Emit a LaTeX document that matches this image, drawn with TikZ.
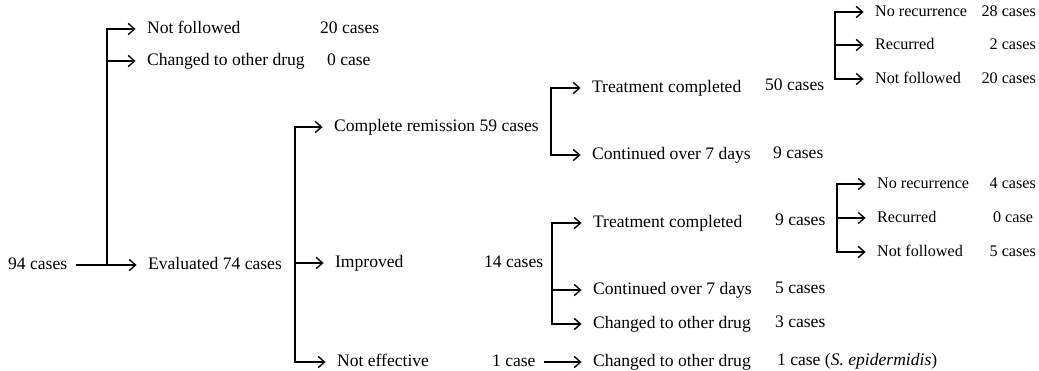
\documentclass[tikz,border=0pt]{standalone}
\usepackage{fontspec}
\setmainfont{Liberation Serif}
\usetikzlibrary{arrows.meta}

\begin{document}
\begin{tikzpicture}[
    x=0.025cm, y=-0.025cm,
    lbl/.style={anchor=west, inner sep=2pt,
        font=\fontsize{12.5}{15}\selectfont,
        text height=9pt, text depth=2.5pt},
    sml/.style={lbl, font=\fontsize{11.5}{14}\selectfont},
    arrow/.style={-{Straight Barb[length=4.5pt, width=8pt]},
        line width=1pt, shorten >=6pt}
]
\useasboundingbox (0,0) rectangle (1039,370);

% Level 0
\node[lbl] (total) at (5,265) {94 cases};

% Level 1
\node[lbl] (notf)  at (144,29) {Not followed};
\node[lbl] (notfN) at (317,29) {20 cases};
\node[lbl] (chg)   at (144,61) {Changed to other drug};
\node[lbl] (chgN)  at (324,61) {0 case};
\node[lbl] (eval)  at (145,265) {Evaluated 74 cases};

% Level 2
\node[lbl] (cr)   at (331,127) {Complete remission 59 cases};
\node[lbl] (imp)  at (332,263) {Improved};
\node[lbl] (impN) at (481,263) {14 cases};
\node[lbl] (ne)   at (334,362) {Not effective};
\node[lbl] (neN)  at (489,362) {1 case};

% Level 3
\node[lbl] (crtc)  at (589,88)  {Treatment completed};
\node[lbl] (crtcN) at (762,86)  {50 cases};
\node[lbl] (crco)  at (589,155) {Continued over 7 days};
\node[lbl] (crcoN) at (770,154) {9 cases};
\node[lbl] (imtc)  at (590,223) {Treatment completed};
\node[lbl] (imtcN) at (772,221) {9 cases};
\node[lbl] (imco)  at (590,290) {Continued over 7 days};
\node[lbl] (imcoN) at (772,289) {5 cases};
\node[lbl] (imch)  at (590,324) {Changed to other drug};
\node[lbl] (imchN) at (772,323) {3 cases};
\node[lbl] (nech)  at (590,362) {Changed to other drug};
\node[lbl] (nechN) at (774,361) {1 case (\textit{S. epidermidis})};

% Level 4
\node[sml] (crnr) at (872,12) {No recurrence};
\node[sml, anchor=east] (crnrN) at (1039,12) {28 cases};
\node[sml] (crrc) at (872,45) {Recurred};
\node[sml, anchor=east] (crrcN) at (1039,45) {2 cases};
\node[sml] (crnf) at (872,79) {Not followed};
\node[sml, anchor=east] (crnfN) at (1039,79) {20 cases};
\node[sml] (imnr) at (874,184) {No recurrence};
\node[sml, anchor=east] (imnrN) at (1039,184) {4 cases};
\node[sml] (imrc) at (874,218) {Recurred};
\node[sml] (imrcN) at (990,218) {0 case};
\node[sml] (imnf) at (874,252) {Not followed};
\node[sml, anchor=east] (imnfN) at (1039,252) {5 cases};

% Connectors
\coordinate (j1) at (107,265);
\coordinate (j2) at (295,263);
\coordinate (j3) at (551,122);
\coordinate (j4) at (552,263);
\coordinate (j5) at (835,45);
\coordinate (j6) at (837,218);

\draw[arrow, shorten <=4pt] (total) -- (eval);
\foreach \c in {notf, chg}
    \draw[arrow] (j1) |- (\c);
\foreach \c in {cr, imp, ne}
    \draw[arrow] (j2) |- (\c);
\foreach \c in {crtc, crco}
    \draw[arrow] (j3) |- (\c);
\foreach \c in {imtc, imco, imch}
    \draw[arrow] (j4) |- (\c);
\draw[arrow, shorten <=4pt] (neN) -- (nech);
\foreach \c in {crnr, crrc, crnf}
    \draw[arrow] (j5) |- (\c);
\foreach \c in {imnr, imrc, imnf}
    \draw[arrow] (j6) |- (\c);

\end{tikzpicture}
\end{document}
